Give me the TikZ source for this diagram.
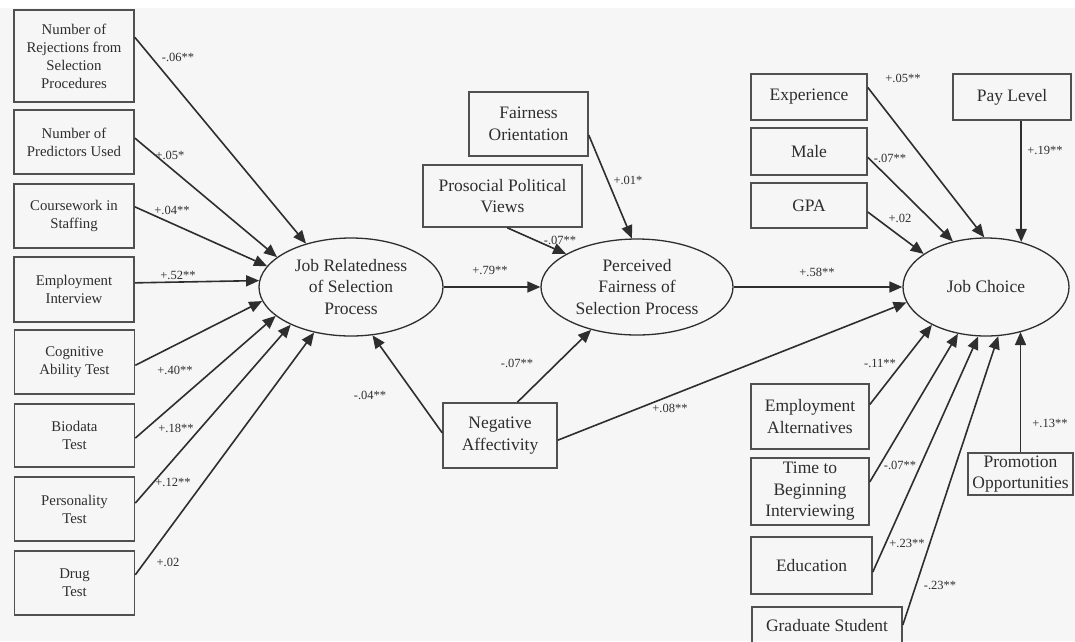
\documentclass[tikz,border=0pt]{standalone}
\usepackage{fontspec}
\setmainfont{Liberation Serif}
\usetikzlibrary{shapes.geometric,arrows.meta,calc}
\definecolor{ink}{HTML}{2E2E2E}
\definecolor{boxc}{HTML}{505050}
\definecolor{bg}{HTML}{F6F6F6}
\begin{document}
\begin{tikzpicture}[x=1pt,y=-1pt,
 lbox/.style={draw=boxc,line width=1.6pt,rectangle,inner sep=0pt,align=center,text=ink,font=\fontsize{14.8}{18}\selectfont,minimum width=120pt},
 rbox/.style={draw=boxc,line width=1.6pt,rectangle,inner sep=0pt,align=center,text=ink,font=\fontsize{17.5}{21.5}\selectfont},
 ell/.style={draw=ink,line width=1.3pt,ellipse,inner sep=0pt,align=center,text=ink,font=\fontsize{17.5}{21.5}\selectfont},
 arr/.style={draw=ink,line width=1.6pt,-{Triangle[length=13pt,width=11pt]}},
 lab/.style={text=ink,font=\fontsize{12.5}{14}\selectfont,inner sep=0pt}]
\useasboundingbox (0,0) rectangle (1075,641);
\clip (0,0) rectangle (1075,641);
\fill[white] (0,0) rectangle (1075,641);
\fill[bg] (0,8) rectangle (1075,641);

% left boxes
\node[lbox,minimum height=92pt] (b1) at (74,56) {Number of\\Rejections from\\Selection\\Procedures};
\node[lbox,minimum height=64pt] (b2) at (74,142) {Number of\\Predictors Used};
\node[lbox,minimum height=64pt] (b3) at (74,216) {Coursework in\\Staffing};
\node[lbox,minimum height=65pt] (b4) at (74,289.5) {Employment\\Interview};
\node[lbox,minimum height=64pt] (b5) at (74.5,362) {Cognitive\\Ability Test};
\node[lbox,minimum height=63pt] (b6) at (74.5,435.5) {Biodata\\Test};
\node[lbox,minimum height=64pt] (b7) at (74.5,509) {Personality\\Test};
\node[lbox,minimum height=64pt] (b8) at (74.5,583) {Drug\\Test};

% ellipses
\node[ell,minimum width=184pt,minimum height=98pt] (jr) at (351,287) {Job Relatedness\\of Selection\\Process};
\node[ell,minimum width=192pt,minimum height=96pt] (pf) at (637,287) {Perceived\\Fairness of\\Selection Process};
\node[ell,minimum width=166pt,minimum height=98pt] (jc) at (986,287) {Job Choice};

% middle boxes
\node[rbox,minimum width=119pt,minimum height=64pt] (fo) at (528.5,124) {Fairness\\Orientation};
\node[rbox,minimum width=159pt,minimum height=62pt] (ppv) at (502.5,196) {Prosocial Political\\Views};
\node[rbox,minimum width=114pt,minimum height=65pt] (na) at (500,435.5) {Negative\\Affectivity};

% right boxes
\node[rbox,minimum width=116pt,minimum height=46pt] (exp) at (809,97) {Experience};
\node[rbox,minimum width=116pt,minimum height=47pt] (male) at (809,151.5) {Male};
\node[rbox,minimum width=116pt,minimum height=45pt] (gpa) at (809,205.5) {GPA};
\node[rbox,minimum width=118pt,minimum height=46pt] (pay) at (1012,97) {Pay Level};
\node[rbox,minimum width=118pt,minimum height=65pt] (ea) at (810,416.5) {Employment\\Alternatives};
\node[rbox,minimum width=118pt,minimum height=67pt] (time) at (810,491.5) {Time to\\Beginning\\Interviewing};
\node[rbox,minimum width=121pt,minimum height=57pt] (edu) at (811.5,565.5) {Education};
\node[rbox,minimum width=150pt,minimum height=36pt] (grad) at (827,625) {Graduate Student};
\node[rbox,minimum width=105pt,minimum height=42pt] (po) at (1020.5,474) {Promotion\\Opportunities};

% arrows into job relatedness
\draw[arr] ($(b1.north east)!0.30!(b1.south east)$) -- (jr.136.7);
\draw[arr] ($(b2.north east)!0.44!(b2.south east)$) -- (jr.158.3);
\draw[arr] ($(b3.north east)!0.36!(b3.south east)$) -- (jr.166.6);
\draw[arr] ($(b4.north east)!0.40!(b4.south east)$) -- (jr.176.9);
\draw[arr] ($(b5.north east)!0.55!(b5.south east)$) -- (jr.189.6);
\draw[arr] ($(b6.north east)!0.54!(b6.south east)$) -- (jr.201.6);
\draw[arr] ($(b7.north east)!0.41!(b7.south east)$) -- (jr.212);
\draw[arr] ($(b8.north east)!0.375!(b8.south east)$) -- (jr.231.3);
\draw[arr] ($(na.north west)!0.46!(na.south west)$) -- (jr.294);

% into perceived fairness
\draw[arr] (jr.east) -- (pf.west);
\draw[arr] ($(fo.north east)!0.67!(fo.south east)$) -- (pf.96);
\draw[arr] ($(ppv.south west)!0.53!(ppv.south east)$) -- (pf.155.6);
\draw[arr] ($(na.north west)!0.65!(na.north east)$) -- (pf.223);

% into job choice
\draw[arr] (pf.east) -- (jc.west);
\draw[arr] ($(na.north east)!0.57!(na.south east)$) -- (jc.191.7);
\draw[arr] ($(exp.north east)!0.30!(exp.south east)$) -- (jc.92);
\draw[arr] ($(male.north east)!0.62!(male.south east)$) -- (jc.126.7);
\draw[arr] ($(gpa.north east)!0.64!(gpa.south east)$) -- (jc.152.4);
\draw[arr] (pay.south -| jc.52.7) -- (jc.52.7);
\draw[arr] ($(ea.north east)!0.32!(ea.south east)$) -- (jc.215.6);
\draw[arr] ($(time.north east)!0.36!(time.south east)$) -- (jc.239.7);
\draw[arr] ($(edu.north east)!0.61!(edu.south east)$) -- (jc.261.9);
\draw[arr] ($(grad.north east)!0.50!(grad.south east)$) -- (jc.284.3);
\draw[arr] (po.north) -- (po.north |- jc.-52.7);

% labels
\node[lab] (l1) at (178,57) {-.06**};
\node[lab] (l2) at (170,155) {+.05*};
\node[lab] (l3) at (172,210) {+.04**};
\node[lab] (l4) at (178,275) {+.52**};
\node[lab] (l5) at (175,370) {+.40**};
\node[lab] (l6) at (176,428) {+.18**};
\node[lab] (l7) at (173,482) {+.12**};
\node[lab] (l8) at (168,562) {+.02};
\node[lab] (l9) at (490,270) {+.79**};
\node[lab] (l10) at (628,180) {+.01*};
\node[lab] (l11) at (560,240) {-.07**};
\node[lab] (l12) at (517,363) {-.07**};
\node[lab] (l13) at (370,395) {-.04**};
\node[lab] (l14) at (670,408) {+.08**};
\node[lab] (l15) at (817,272) {+.58**};
\node[lab] (l16) at (903,78) {+.05**};
\node[lab] (l17) at (890,158) {-.07**};
\node[lab] (l18) at (900,218) {+.02};
\node[lab] (l19) at (1045,150) {+.19**};
\node[lab] (l20) at (880,363) {-.11**};
\node[lab] (l21) at (900,465) {-.07**};
\node[lab] (l22) at (907,543) {+.23**};
\node[lab] (l23) at (940,585) {-.23**};
\node[lab] (l24) at (1050,423) {+.13**};
\end{tikzpicture}
\end{document}
